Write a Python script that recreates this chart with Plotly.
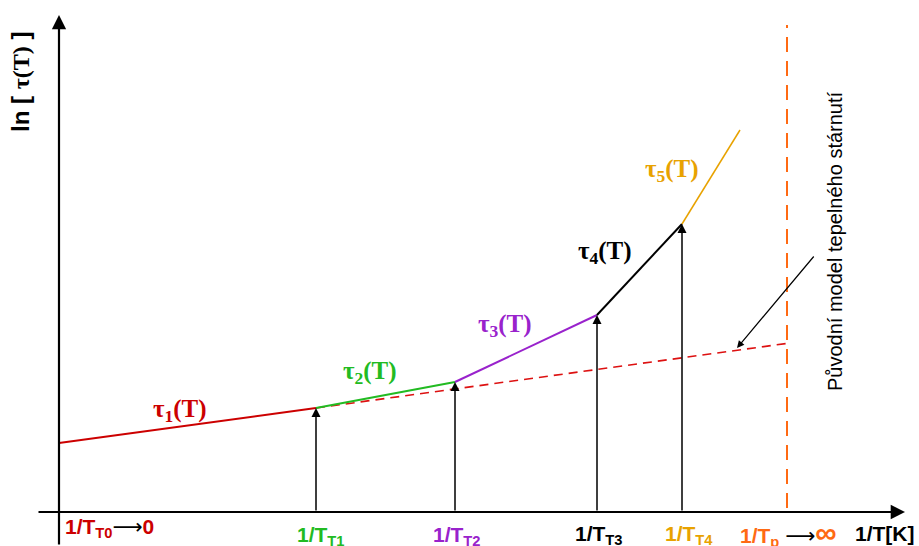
import plotly.graph_objects as go

# Piecewise ln(tau) vs 1/T model (schematic units, origin at the axes crossing)
x_break = [0, 257, 396, 538, 623, 681]
ln_tau = [69, 104, 130, 197, 288, 382]
segment_colors = ["#CC0000", "#22BB22", "#9922CC", "#000000", "#E8A200"]
segment_labels = ["τ<sub>1</sub>(T)", "τ<sub>2</sub>(T)", "τ<sub>3</sub>(T)",
                  "τ<sub>4</sub>(T)", "τ<sub>5</sub>(T)"]
label_x = [121, 311, 446, 546, 613]
label_y = [102, 140, 187, 260, 342]

# Original thermal ageing model (single straight line)
orig_x = [257, 731]
orig_y = [104, 169]

# Limit 1/T_p
t_p = 728

# Axis tick labels
ARROW = "<span style='color:#000000;font-family:DejaVu Sans;font-weight:normal'>⟶</span>"
tick_text = ["1/T<sub>T0</sub>" + ARROW + "0", "1/T<sub>T1</sub>", "1/T<sub>T2</sub>",
             "1/T<sub>T3</sub>", "1/T<sub>T4</sub>",
             "1/T<sub>p</sub> " + ARROW + "<span style='font-size:30px'>∞</span>", "1/T[K]"]
tick_x = [4, 236, 372, 514, 604, 679, 794]
tick_y = [-1, -9, -9, -8, -8, -2, -8]
tick_colors = ["#CC0000", "#22BB22", "#9922CC", "#000000", "#E8A200", "#FF6A13", "#000000"]

fig = go.Figure()

# Limit line 1/T_p
fig.add_trace(go.Scatter(x=[t_p, t_p], y=[4, 487], mode="lines",
                         line=dict(color="#FF6A13", width=2, dash="15px,9px"),
                         hoverinfo="skip"))

# Original model, dashed
fig.add_trace(go.Scatter(x=orig_x, y=orig_y, mode="lines",
                         line=dict(color="#DD1111", width=1.6, dash="9px,6px"),
                         hoverinfo="skip"))

# Segments of the piecewise model
for i, col in enumerate(segment_colors):
    fig.add_trace(go.Scatter(x=x_break[i:i + 2], y=ln_tau[i:i + 2], mode="lines",
                             line=dict(color=col, width=2 if i < 4 else 1.5),
                             hoverinfo="skip"))

annotations = []

# Axes as arrows
annotations.append(dict(x=0, y=497, ax=0, ay=-34, xref="x", yref="y", axref="x", ayref="y",
                        text="", showarrow=True, arrowhead=2, arrowsize=1.3,
                        arrowwidth=2.2, arrowcolor="#000000"))
annotations.append(dict(x=846, y=0, ax=-22, ay=0, xref="x", yref="y", axref="x", ayref="y",
                        text="", showarrow=True, arrowhead=2, arrowsize=1.3,
                        arrowwidth=2.2, arrowcolor="#000000"))

# Vertical arrows from the 1/T axis to each breakpoint
for bx, by in zip(x_break[1:5], ln_tau[1:5]):
    annotations.append(dict(x=bx, y=by, ax=bx, ay=0, xref="x", yref="y",
                            axref="x", ayref="y", text="", showarrow=True,
                            arrowhead=2, arrowsize=1.2, arrowwidth=1.5,
                            arrowcolor="#000000"))

# Pointer to the original model line
annotations.append(dict(x=678, y=164, ax=756, ay=257, xref="x", yref="y",
                        axref="x", ayref="y", text="", showarrow=True,
                        arrowhead=2, arrowsize=1.2, arrowwidth=1.2,
                        arrowcolor="#000000"))

# Segment labels
for txt, lx, ly, col in zip(segment_labels, label_x, label_y, segment_colors):
    annotations.append(dict(x=lx, y=ly, xref="x", yref="y", text="<b>" + txt + "</b>",
                            showarrow=False, xanchor="center", yanchor="middle",
                            font=dict(family="Liberation Serif", size=25, color=col)))

# Tick labels on the 1/T axis
for txt, tx, ty, col in zip(tick_text, tick_x, tick_y, tick_colors):
    annotations.append(dict(x=tx, y=ty, xref="x", yref="y", text="<b>" + txt + "</b>",
                            showarrow=False, xanchor="left", yanchor="top",
                            font=dict(family="Liberation Sans", size=21, color=col)))

# ln tau axis title
annotations.append(dict(x=-39, y=430, xref="x", yref="y",
                        text="<b>ln [ <span style='font-family:Liberation Serif'>τ(T)</span> ]</b>",
                        textangle=-90, showarrow=False, xanchor="center", yanchor="middle",
                        font=dict(family="Liberation Sans", size=24, color="#000000")))

# Caption of the original model
annotations.append(dict(x=776, y=271, xref="x", yref="y",
                        text="Původní model tepelného stárnutí", textangle=-90,
                        showarrow=False, xanchor="center", yanchor="middle",
                        font=dict(family="Liberation Sans", size=20, color="#000000")))

fig.update_layout(
    width=919, height=546,
    margin=dict(l=0, r=0, t=0, b=0),
    paper_bgcolor="#FFFFFF", plot_bgcolor="#FFFFFF",
    showlegend=False,
    xaxis=dict(range=[-59, 860], visible=False, fixedrange=True),
    yaxis=dict(range=[-34, 512], visible=False, fixedrange=True),
    annotations=annotations,
)

fig.write_html("out.html")
